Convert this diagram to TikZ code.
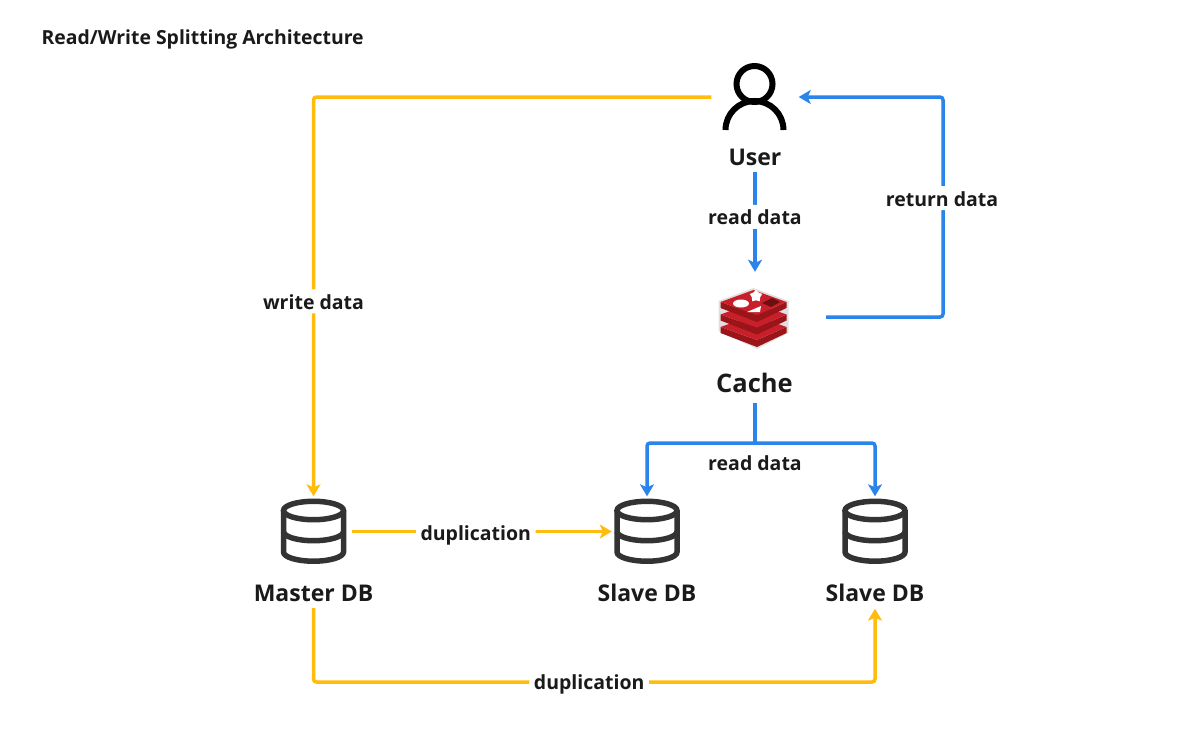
\documentclass[tikz,border=0pt]{standalone}
\usepackage{fontspec}
\setmainfont{Open Sans}
\usetikzlibrary{arrows.meta}
\usetikzlibrary{shapes.geometric}
\definecolor{writecol}{HTML}{FFBC0F}
\definecolor{readcol}{HTML}{2A84EA}
\definecolor{iconcol}{HTML}{333333}
\definecolor{textcol}{HTML}{1A1A1A}
\definecolor{redistop}{HTML}{C8202A}
\definecolor{redisside}{HTML}{9A1519}
\tikzset{
  writeline/.style={draw=writecol, line width=3.5pt, rounded corners=3pt},
  readline/.style={draw=readcol, line width=3.5pt, rounded corners=3pt},
  tip/.style={-{Stealth[length=12pt,width=14pt,inset=3pt]}},
  iconbox/.style={inner sep=0pt, minimum width=#1, minimum height=70pt},
  title/.style={text=textcol, inner ysep=6.6pt, font=\bfseries\fontsize{23}{26}\selectfont},
  edgelabel/.style={fill=white, text=textcol, inner xsep=4.5pt, inner ysep=0pt, text height=20pt, text depth=4pt, font=\bfseries\fontsize{19.5}{22}\selectfont},
  dbicon/.style={draw=iconcol, line width=5.5pt}
}
\newcommand{\dbshape}[1]{
  \draw[dbicon] ([shift={(0,-21)}]#1.center) ellipse (30 and 9.2);
  \draw[dbicon] ([shift={(30,-21)}]#1.center) -- ([shift={(30,20.5)}]#1.center) arc[start angle=0, end angle=180, x radius=30, y radius=9.2] -- ([shift={(-30,-21)}]#1.center);
  \draw[dbicon] ([shift={(30,0)}]#1.center) arc[start angle=0, end angle=180, x radius=30, y radius=9.2];
}
\begin{document}
\begin{tikzpicture}[x=1pt, y=-1pt]
  \useasboundingbox[fill=white] (0,0) rectangle (1198,736);

  \node[anchor=west, text=textcol, font=\bfseries\fontsize{19.4}{22}\selectfont] (heading) at (38,39) {Read/Write Splitting Architecture};

  \node[inner sep=0pt, minimum width=87pt, minimum height=70pt] (user) at (755,97) {};
  \node[title] (userlabel) at (755,157) {User};
  \node[inner sep=0pt, minimum width=142pt, minimum height=90pt] (cache) at (755,317) {};
  \node[title, inner ysep=10pt, font=\bfseries\fontsize{25.5}{28}\selectfont] (cachelabel) at (754.5,383) {Cache};
  \node[iconbox=76pt] (master) at (313.5,531.5) {};
  \node[title] (masterlabel) at (313.5,593) {Master DB};
  \node[iconbox=70pt] (slaveone) at (647,531.5) {};
  \node[title] (slaveonelabel) at (647,593) {Slave DB};
  \node[iconbox=70pt] (slavetwo) at (875,531.5) {};
  \node[title] (slavetwolabel) at (875,593) {Slave DB};

  % user icon
  \draw[black, line width=6pt] (725.5,130) arc[start angle=180, end angle=360, radius=29];
  \draw[black, line width=6pt] (754.5,84) circle (18);

  % redis icon
  \fill[black!12] (753.5,288) -- (718.5,301) -- (718.5,331) -- (757,349) -- (788.5,333) -- (788.5,301) -- cycle;
  \foreach \yy in {25,12.5,0}{
    \fill[redisside] (720.5,302+\yy) -- (757,315+\yy) -- (786.5,302+\yy) -- (786.5,308+\yy) -- (757,322+\yy) -- (720.5,308+\yy) -- cycle;
    \fill[redistop] (753.5,290+\yy) -- (720.5,302+\yy) -- (757,315+\yy) -- (786.5,302+\yy) -- cycle;
  }
  \fill[white] (741,303.5) ellipse (8 and 4);
  \node[star, star points=5, fill=white, inner sep=0pt, minimum size=13pt] (redisstar) at (756,296) {};
  \fill[white] (747,312) -- (761,306) -- (760,312) -- cycle;
  \fill[redisside!70!black] (762,303) -- (772,298) -- (780,302) -- (771,307) -- cycle;

  % db icons
  \dbshape{master}
  \dbshape{slaveone}
  \dbshape{slavetwo}

  % write path
  \draw[writeline, tip] (user.west) -| node[pos=0.756, edgelabel] (writelabel) {write data} (master.north);
  \draw[writeline, tip] (master.east) -- node[pos=0.477, edgelabel, yshift=-1pt] (duplabelone) {duplication} (slaveone.west);
  \draw[writeline, tip] (masterlabel.south) |- node[pos=0.7455, edgelabel, yshift=1pt] (duplabeltwo) {duplication} (875,682) -- (slavetwolabel.south);

  % read path
  \draw[readline, tip] (userlabel.south) -- node[pos=0.45, edgelabel] (readlabelone) {read data} (cache.north);
  \draw[readline, tip] (cache.east) -| node[pos=0.770, edgelabel, xshift=-1pt] (returnlabel) {return data} (943,97) -- (user.east);
  \coordinate (branch) at (755,443);
  \draw[readline] (cachelabel.south -| branch) -- (branch);
  \draw[readline, tip] (branch) -| (slaveone.north);
  \draw[readline, tip] (branch) -| (slavetwo.north);
  \node[edgelabel] (readlabeltwo) at (755,462) {read data};
\end{tikzpicture}
\end{document}
